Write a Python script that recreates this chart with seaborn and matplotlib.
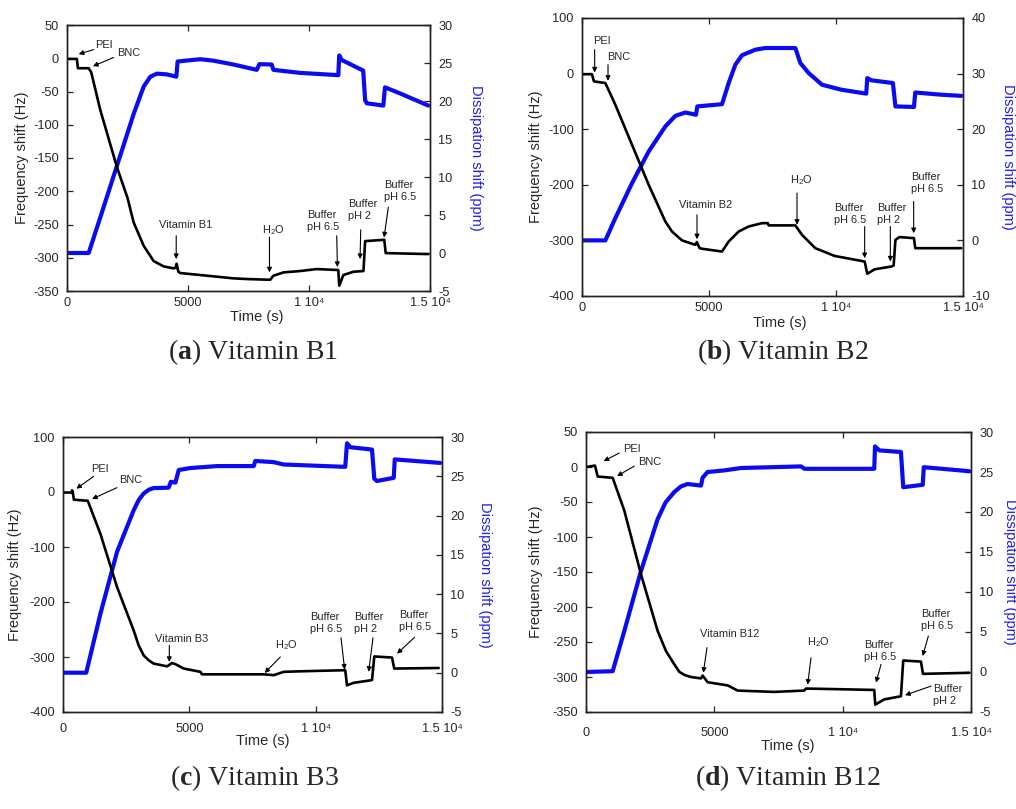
import matplotlib
matplotlib.use("Agg")
import matplotlib.pyplot as plt
import seaborn as sns

# ---------------- data ----------------
# Panel (a) Vitamin B1
a_freq_t = [0, 410, 450, 895, 1000, 1377, 2066, 2500, 2755, 3168, 3581, 3994, 4408, 4480,
            4530, 4600, 4683, 5510, 6880, 7438, 8260, 8400, 8530, 8950, 9630, 10320, 11210,
            11250, 11420, 11840, 12250, 12320, 13110, 13170, 14930]
a_freq = [-1, -1, -15, -15, -21, -78, -164, -210, -247, -282, -305, -313, -316, -315,
          -309, -321, -323, -326, -331, -332, -333, -333, -327, -322, -320, -317, -318.5,
          -342, -326, -321, -320, -275, -273, -293, -294.5]
a_diss_t = [0, 895, 1377, 2066, 2755, 3168, 3444, 3719, 4132, 4518, 4570, 5510, 6061, 6880,
            7840, 7950, 8460, 8530, 9630, 11210, 11250, 11350, 12240, 12320, 12390, 13070,
            13140, 13760, 14930]
a_diss = [0, 0, 4.7, 11.5, 18.3, 21.9, 23.2, 23.6, 23.5, 23.2, 25.2, 25.5, 25.3, 24.8,
          24.1, 24.85, 24.8, 24.1, 23.7, 23.4, 26.0, 25.4, 24.0, 20.1, 19.7, 19.4,
          21.8, 21.0, 19.4]

# Panel (b) Vitamin B2
b_freq_t = [0, 390, 470, 919, 1312, 1969, 2625, 3281, 3543, 3937, 4462, 4520, 4630, 4724,
            5512, 5774, 6168, 6562, 7087, 7320, 7350, 8399, 8661, 9186, 9950, 11130, 11230,
            11520, 12180, 12270, 12340, 12500, 13070, 13120, 14930]
b_freq = [-1, -1, -14, -17, -56, -128, -200, -266, -284, -300, -308, -303, -314, -315,
          -320, -302, -284, -275, -269, -269, -273, -273, -290, -314, -328, -338, -360,
          -352, -347, -345, -299, -294, -296, -314, -314]
b_diss_t = [0, 919, 1312, 1969, 2625, 3281, 3675, 4068, 4488, 4540, 5512, 5774, 6037, 6299,
            6824, 7218, 8399, 8596, 8924, 9449, 10210, 11190, 11230, 11390, 12240, 12340,
            13070, 13120, 14150, 14930]
b_diss = [0, 0, 4.0, 10.3, 16.0, 20.5, 22.4, 23.0, 22.6, 24.1, 24.5, 28.3, 31.6, 33.3,
          34.3, 34.6, 34.6, 31.9, 30.1, 28.0, 27.1, 26.4, 29.2, 28.8, 28.3, 24.1,
          24.0, 26.6, 26.2, 26.0]

# Panel (c) Vitamin B3
c_freq_t = [0, 340, 360, 390, 430, 980, 1480, 2140, 2800, 2995, 3191, 3391, 3590, 4120,
            4310, 4450, 4780, 5440, 5500, 6760, 7940, 8340, 8730, 9390, 11170, 11240, 11500,
            12230, 12320, 13020, 13110, 14870]
c_freq = [-1, -1, 3, -1, -14, -16, -76, -173, -252, -279, -297, -306, -312, -317,
          -311, -313, -321, -327, -331.5, -331.5, -331.5, -333, -327, -326, -324, -351.5,
          -347, -342, -299, -301, -321, -320]
c_diss_t = [0, 920, 1480, 2140, 2800, 3000, 3190, 3400, 3590, 4180, 4270, 4450, 4580, 5040,
            6100, 7550, 7610, 8340, 8730, 11170, 11240, 11370, 12230, 12320, 12420, 13090,
            13130, 14930]
c_diss = [0, 0, 7.5, 15.4, 20.7, 22.0, 22.8, 23.3, 23.5, 23.55, 24.3, 24.2, 25.8, 26.05,
          26.3, 26.3, 26.95, 26.8, 26.5, 26.2, 29.2, 28.7, 28.4, 24.7, 24.4, 24.8,
          27.15, 26.7]

# Panel (d) Vitamin B12
d_freq_t = [0, 350, 455, 1040, 1490, 2140, 2790, 3117, 3442, 3636, 3830, 4091, 4480, 4545,
            4740, 5520, 5910, 7340, 8500, 8570, 9930, 11230, 11270, 11620, 12270, 12360,
            13050, 13130, 14930]
d_freq = [0, 2, -13.6, -15.5, -62, -153, -234, -263, -282, -292.6, -297, -300, -302, -298,
          -307.5, -312, -319.4, -321.3, -319.4, -316.5, -317.5, -318.5, -339.5, -332,
          -327.5, -276.4, -278, -295.5, -294]
d_diss_t = [0, 1040, 1490, 2140, 2790, 3100, 3440, 3700, 3960, 4480, 4545, 4740, 5390, 6040,
            8380, 8510, 11230, 11260, 11430, 12270, 12360, 13120, 13160, 14930]
d_diss = [0, 0.1, 5.1, 12.6, 19.1, 21.2, 22.5, 23.2, 23.5, 23.3, 24.3, 25.0, 25.2, 25.5,
          25.7, 25.4, 25.4, 28.2, 27.7, 27.5, 23.1, 23.4, 25.6, 25.1]

x_ticks = [0, 5000, 10000, 15000]
x_tick_labels = ["0", "5000", "1 10\u2074", "1.5 10\u2074"]
captions = [r"($\mathbf{a}$) Vitamin B1", r"($\mathbf{b}$) Vitamin B2",
            r"($\mathbf{c}$) Vitamin B3", r"($\mathbf{d}$) Vitamin B12"]

H2O = "H$_2$O"
# annotation: text, text x, text y, ha, arrow start (x,y), arrow tip (x,y)
a_notes = [("PEI", 1170, 19.8, "left", (1100, 13), (482, 6.2)),
           ("BNC", 2064, 7.2, "left", (1927, 1.2), (1073, -12)),
           ("Vitamin B1", 4913, -250.4, "center", (4513, -267), (4513, -302)),
           (H2O, 8532, -259, "center", (8367, -269), (8367, -322)),
           ("Buffer\npH 6.5", 9935, -244.8, "left", (11146, -267), (11174, -314)),
           ("Buffer\npH 2", 11600, -228, "left", (12137, -258), (12110, -302)),
           ("Buffer\npH 6.5", 13114, -199, "left", (13279, -224), (13100, -269.5))]
b_notes = [("PEI", 446, 58, "left", (499, 43), (499, 2)),
           ("BNC", 984, 29.8, "left", (1024, 16), (1024, -13)),
           ("Vitamin B2", 4856, -236, "center", (4528, -254), (4528, -298)),
           (H2O, 8635, -192, "center", (8465, -215), (8465, -272)),
           ("Buffer\npH 6.5", 9921, -252, "left", (11129, -275), (11129, -332)),
           ("Buffer\npH 2", 11614, -252, "left", (12139, -275), (12139, -338)),
           ("Buffer\npH 6.5", 12966, -196, "left", (13058, -230), (13058, -287))]
c_notes = [("PEI", 1121, 42.4, "left", (1214, 28.5), (528, 6)),
           ("BNC", 2203, 21, "left", (2137, 7.9), (1148, -12.7)),
           ("Vitamin B3", 4710, -266.7, "center", (4208, -279), (4208, -309)),
           (H2O, 8826, -279, "center", (8602, -300), (7982, -329)),
           ("Buffer\npH 6.5", 9789, -238.8, "left", (11003, -265), (11148, -323)),
           ("Buffer\npH 2", 11530, -238.8, "left", (12269, -265), (12098, -327)),
           ("Buffer\npH 6.5", 13285, -235, "left", (13918, -264), (13219, -294))]
d_notes = [("PEI", 1429, 25, "left", (1299, 20), (688, 8.4)),
           ("BNC", 2013, 7, "left", (1883, 1.3), (1208, -13)),
           ("Vitamin B12", 5584, -238, "center", (4714, -258), (4571, -294)),
           (H2O, 9052, -249.6, "center", (8766, -272.6), (8636, -311)),
           ("Buffer\npH 6.5", 10818, -263.5, "left", (11494, -282), (11299, -308)),
           ("Buffer\npH 2", 13506, -326, "left", (13442, -313), (12428, -326)),
           ("Buffer\npH 6.5", 13052, -218, "left", (13338, -241.5), (13117, -270))]

# ---------------- style ----------------
sns.set_style("ticks")
plt.rcParams["font.family"] = ["Liberation Sans", "DejaVu Sans"]
plt.rcParams["axes.unicode_minus"] = False
plt.rcParams["mathtext.fontset"] = "custom"
plt.rcParams["mathtext.rm"] = "Liberation Sans"
plt.rcParams["mathtext.it"] = "Liberation Sans"
plt.rcParams["mathtext.bf"] = "Liberation Serif:bold"

BLUE = "#0b0bf0"
LBLUE = "#1f1fe6"

fig = plt.figure(figsize=(10.16, 8.09), dpi=100)
W, H = 1016, 809


def rect(l, r, t, b):
    return [l / W, 1 - b / H, (r - l) / W, (b - t) / H]


def panel(box, ft, fv, dt, dv, flim, fticks, dlim, dticks, notes, xpad, lab_pos):
    ax = fig.add_axes(box)
    ax2 = ax.twinx()
    sns.lineplot(x=dt, y=dv, ax=ax2, color=BLUE, lw=3.0, sort=False, estimator=None)
    sns.lineplot(x=ft, y=fv, ax=ax, color="black", lw=1.9, sort=False, estimator=None)
    ax.set_zorder(ax2.get_zorder() + 1)
    ax.patch.set_visible(False)

    ax.set_xlim(0, 15000)
    ax.set_ylim(*flim)
    ax2.set_ylim(*dlim)
    ax.set_xticks(x_ticks)
    ax.set_xticklabels(x_tick_labels)
    ax.set_yticks(fticks)
    ax2.set_yticks(dticks)

    ax.tick_params(axis="x", direction="in", top=True, bottom=True, length=4, width=0.9,
                   labelsize=9.2, pad=xpad)
    ax.tick_params(axis="y", direction="in", left=True, right=False, length=4, width=0.9,
                   labelsize=9.2, pad=6)
    ax2.tick_params(axis="y", direction="in", right=True, left=False, length=4, width=0.9,
                    labelsize=9.2, pad=6)
    for a in (ax, ax2):
        for s in a.spines.values():
            s.set_linewidth(1.0)
            s.set_color("#222222")
            s.set_visible(True)

    ax.set_xlabel("Time (s)", fontsize=10.5)
    ax.set_ylabel("Frequency shift (Hz)", fontsize=10.5)
    ax2.set_ylabel("Dissipation shift (ppm)", fontsize=10.5, color=LBLUE, rotation=-90)
    ax.xaxis.label.set_va("center")
    ax.yaxis.label.set_va("center")
    ax2.yaxis.label.set_va("center")
    ax.xaxis.set_label_coords(*lab_pos[0])
    ax.yaxis.set_label_coords(*lab_pos[1])
    ax2.yaxis.set_label_coords(*lab_pos[2])

    for txt, tx, ty, ha, start, tip in notes:
        ax.text(tx, ty, txt, ha=ha, va="center", fontsize=7.9, linespacing=1.25, zorder=5)
        ax.annotate("", xy=tip, xytext=start,
                    arrowprops=dict(arrowstyle="-|>", lw=0.8, color="black",
                                    mutation_scale=7, shrinkA=0, shrinkB=0))
    return ax


panel(rect(67, 430, 25, 291), a_freq_t, a_freq, a_diss_t, a_diss,
      (-350, 50), list(range(-350, 51, 50)), (-5, 30), list(range(-5, 31, 5)),
      a_notes, 4, [(0.523, -0.098), (-0.124, 0.5), (1.127, 0.5)])
panel(rect(582, 963, 18, 296), b_freq_t, b_freq, b_diss_t, b_diss,
      (-400, 100), list(range(-400, 101, 100)), (-10, 40), list(range(-10, 41, 10)),
      b_notes, 4.5, [(0.52, -0.097), (-0.121, 0.5), (1.118, 0.5)])
panel(rect(63, 442, 437, 712), c_freq_t, c_freq, c_diss_t, c_diss,
      (-400, 100), list(range(-400, 101, 100)), (-5, 30), list(range(-5, 31, 5)),
      c_notes, 8, [(0.528, -0.105), (-0.127, 0.5), (1.113, 0.5)])
panel(rect(586, 971, 432, 712), d_freq_t, d_freq, d_diss_t, d_diss,
      (-350, 50), list(range(-350, 51, 50)), (-5, 30), list(range(-5, 31, 5)),
      d_notes, 11, [(0.525, -0.121), (-0.130, 0.5), (1.101, 0.5)])

cap_pos = [(253, 352), (783, 352), (254, 778), (788, 778)]
for cap, (cx, cy) in zip(captions, cap_pos):
    fig.text(cx / W, 1 - cy / H, cap, family="Liberation Serif", fontsize=20,
             ha="center", va="center")

fig.savefig("out.png", dpi=100)
